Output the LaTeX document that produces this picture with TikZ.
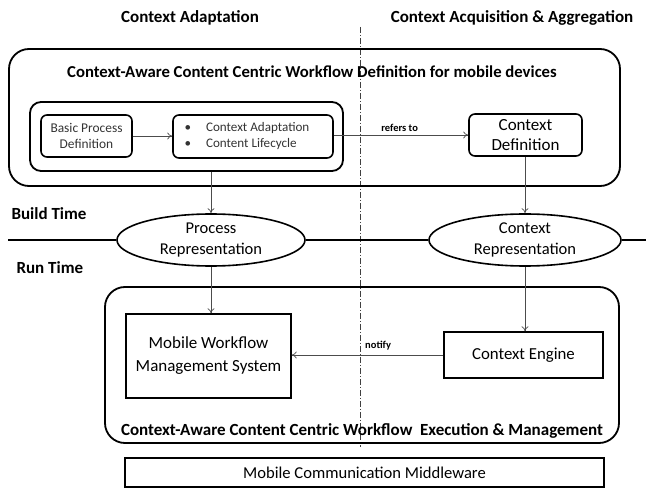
\documentclass[tikz,border=0pt]{standalone}
\usepackage{fontspec}
\setmainfont{Carlito}
\usetikzlibrary{arrows.meta,shapes.geometric}
\newcommand{\fs}[2]{\fontsize{#1}{#2}\selectfont}
\tikzset{
  rbox/.style={draw=black, line width=1.8pt, rounded corners=#1, inner sep=0pt, align=center},
  sbox/.style={draw=black, line width=1.4pt, inner sep=0pt, align=center},
  conn/.style={draw=black!70, line width=0.7pt, -{To[length=5pt,width=7pt]}},
  ell/.style={draw=black, line width=1.6pt, ellipse, fill=white, inner sep=0pt, align=center, font=\fs{16.5}{21}},
  head/.style={font=\bfseries\fs{17}{20}},
  small/.style={font=\bfseries\fs{10.5}{12}},
}
\begin{document}
\begin{tikzpicture}[x=1pt,y=-1pt]
\useasboundingbox (0,0) rectangle (646,489);
% headings
\node[head] (h1) at (190,18) {Context Adaptation};
\node[head] (h2) at (512,18) {Context Acquisition \& Aggregation};
% divider
\coordinate (dtop) at (360,27);
\coordinate (dbot) at (360,447);
\draw[black!75, line width=0.6pt, dash pattern=on 6pt off 2pt on 1pt off 2pt] (dtop) -- (dbot);
% top region
\node[rbox=20pt, minimum width=611pt, minimum height=137pt] (top) at (314.5,117.5) {};
\node[head, font=\bfseries\fs{16.7}{20}] (toptitle) at (312,72) {Context-Aware Content Centric Workflow Definition for mobile devices};
\node[rbox=11pt, minimum width=313pt, minimum height=69pt] (inner) at (186.5,136.5) {};
\node[rbox=6pt, line width=1.6pt, minimum width=91pt, minimum height=42pt, font=\fs{13.4}{16}, text=black!80] (basic) at (86.5,136) {Basic Process\\Definition};
\node[rbox=6pt, line width=1.6pt, minimum width=160pt, minimum height=43pt] (bullet) at (253,136.5) {};
\node[font=\fs{13.1}{16}, text=black!80, anchor=west] (b1) at (181,128) {\textbullet\hspace{15pt}Context Adaptation};
\node[font=\fs{13.1}{16}, text=black!80, anchor=west] (b2) at (181,144) {\textbullet\hspace{15pt}Content Lifecycle};
\node[rbox=6pt, line width=1.6pt, minimum width=113pt, minimum height=42pt, font=\fs{17}{20}] (ctxdef) at (525.5,135) {Context\\Definition};
\draw[conn] (basic.east) -- (bullet.west |- basic.east);
\draw[conn] (bullet.east |- ctxdef.west) -- node[small, above=0pt, pos=0.49] (refers) {refers to} (ctxdef.west);
% build / run time
\node[head, anchor=west] (build) at (8,214) {Build Time};
\node[head, anchor=west] (run) at (13,268) {Run Time};
\coordinate (hl) at (8,240);
\coordinate (hr) at (646,240);
\node[ell, minimum width=188pt, minimum height=52pt] (procrep) at (211,240) {Process\\Representation};
\node[ell, minimum width=192pt, minimum height=52pt] (ctxrep) at (525,240) {Context\\Representation};
\draw[line width=1.4pt] (hl) -- (procrep.west);
\draw[line width=1.4pt] (procrep.east) -- (ctxrep.west);
\draw[line width=1.4pt] (ctxrep.east) -- (hr);
\draw[conn] (inner.south -| procrep.north) -- (procrep.north);
\draw[conn] (ctxdef.south -| ctxrep.north) -- (ctxrep.north);
% bottom region
\node[rbox=20pt, minimum width=514pt, minimum height=156pt] (bottom) at (362,365) {};
\node[head] (bottitle) at (362,431) {Context-Aware Content Centric Workflow\ \ Execution \& Management};
\node[sbox, minimum width=165pt, minimum height=84pt, font=\fs{17}{23}] (mwms) at (208.5,356) {Mobile Workflow\\Management System};
\node[sbox, minimum width=159pt, minimum height=46pt, font=\fs{16.8}{20}] (ce) at (523.5,355) {Context Engine};
\draw[conn] (procrep.south) -- (procrep.south |- mwms.north);
\draw[conn] (ctxrep.south) -- (ctxrep.south |- ce.north);
\draw[conn] (ce.west) -- node[small, above=1pt, pos=0.43] (notify) {notify} (mwms.east |- ce.west);
\node[sbox, minimum width=479pt, minimum height=29pt, font=\fs{16.6}{20}] (mw) at (364.5,472.5) {Mobile Communication Middleware};
\end{tikzpicture}
\end{document}
